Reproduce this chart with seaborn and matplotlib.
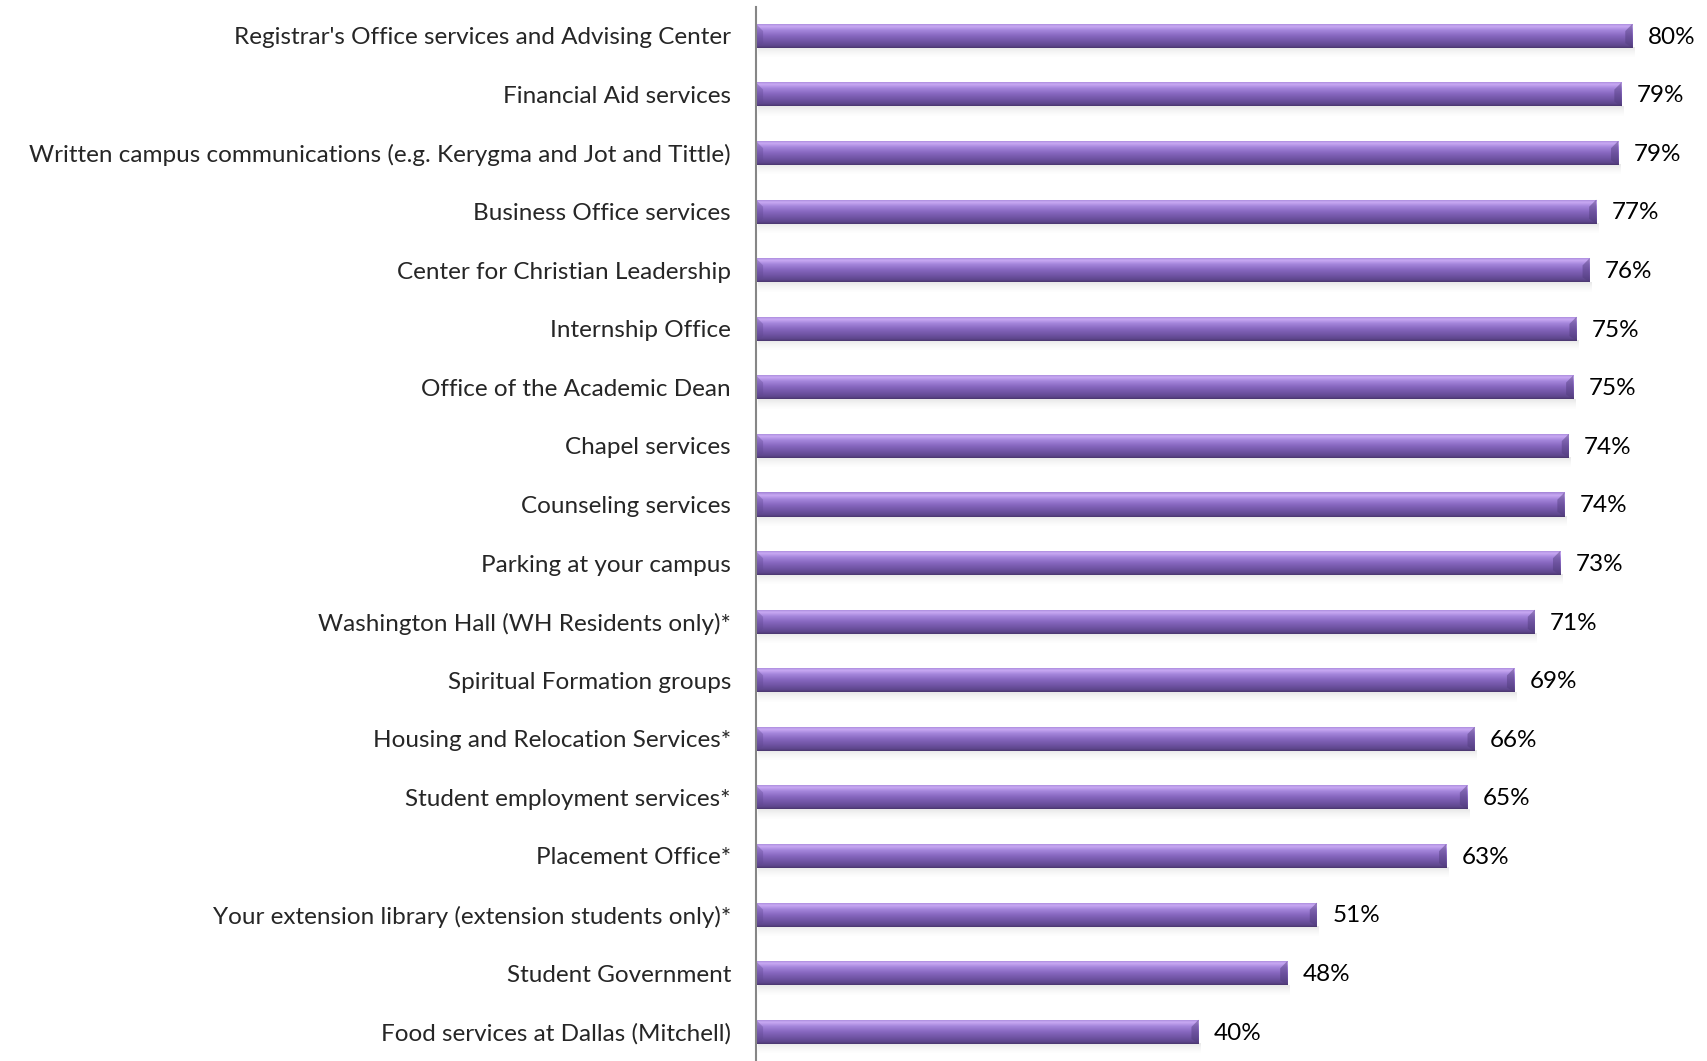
import numpy as np
import pandas as pd
import matplotlib
matplotlib.use("Agg")
import matplotlib.pyplot as plt
import seaborn as sns
from matplotlib.colors import LinearSegmentedColormap

# Survey items (top to bottom) and satisfaction share
categories = [
    "Registrar's Office services and Advising Center",
    "Financial Aid services",
    "Written campus communications (e.g. Kerygma and Jot and Tittle)",
    "Business Office services",
    "Center for Christian Leadership",
    "Internship Office",
    "Office of the Academic Dean",
    "Chapel services",
    "Counseling services",
    "Parking at your campus",
    "Washington Hall (WH Residents only)*",
    "Spiritual Formation groups",
    "Housing and Relocation Services*",
    "Student employment services*",
    "Placement Office*",
    "Your extension library (extension students only)*",
    "Student Government",
    "Food services at Dallas (Mitchell)",
]
values = [80.0, 79.0, 78.7, 76.7, 76.1, 74.9, 74.6, 74.2, 73.8, 73.4,
          71.1, 69.2, 65.6, 64.9, 63.0, 51.2, 48.5, 40.4]
pct_labels = ["80%", "79%", "79%", "77%", "76%", "75%", "75%", "74%", "74%",
              "73%", "71%", "69%", "66%", "65%", "63%", "51%", "48%", "40%"]

df = pd.DataFrame({"item": categories, "pct": values})

sns.set_style("white")
plt.rcParams["font.family"] = ["Lato", "DejaVu Sans"]

fig = plt.figure(figsize=(17.08, 10.61), dpi=100)
ax = fig.add_axes([0.4426, 0.0, 0.5574, 0.9938])

sns.barplot(data=df, x="pct", y="item", color="#7e5fb5", width=0.41,
            orient="h", ax=ax, saturation=1)

# vertical gradient to imitate the 3D bevelled look of the bars
grad_cmap = LinearSegmentedColormap.from_list("bar3d", [
    (0.00, "#a283d6"),
    (0.12, "#c9a9f3"),
    (0.28, "#a586dc"),
    (0.50, "#8868c0"),
    (0.78, "#6c519f"),
    (0.92, "#5d468b"),
    (1.00, "#4a376f"),
])
grad = np.linspace(0, 1, 64).reshape(-1, 1)

for p, lab in zip(ax.patches, pct_labels):
    x0, y0 = p.get_x(), p.get_y()
    w, h = p.get_width(), p.get_height()
    # soft shadow under bar
    shade = np.linspace(0.55, 0.0, 32).reshape(-1, 1)
    ax.imshow(shade, cmap="Greys", vmin=0, vmax=2.2, alpha=0.6,
              extent=(x0 + 0.2, x0 + w + 0.2, y0 + h + 0.16, y0 + h),
              aspect="auto", interpolation="bilinear", zorder=1)
    im = ax.imshow(grad, cmap=grad_cmap, aspect="auto",
                   extent=(x0, x0 + w, y0 + h, y0),
                   interpolation="bilinear", zorder=3)
    im.set_clip_path(p)
    # bevelled ends
    bev = 0.65
    ax.fill([x0, x0 + bev, x0 + bev, x0],
            [y0, y0 + h * 0.3, y0 + h * 0.8, y0 + h],
            color="#5e4690", alpha=0.35, lw=0, zorder=4)
    ax.fill([x0 + w, x0 + w - bev, x0 + w - bev, x0 + w],
            [y0, y0 + h * 0.3, y0 + h * 0.8, y0 + h],
            color="#4f3b7a", alpha=0.45, lw=0, zorder=4)
    ax.annotate(lab, (x0 + w, y0 + h / 2), xytext=(11, -1),
                textcoords="offset points", va="center", ha="left",
                fontsize=17.5, color="#000000")

ax.set_xlim(0, 86.9)
ax.set_ylim(len(categories) - 0.5, -0.5)
ax.set_xlabel("")
ax.set_ylabel("")
ax.set_xticks([])
ax.tick_params(axis="y", length=0, pad=18, labelsize=17.5)
for s in ["top", "right", "bottom"]:
    ax.spines[s].set_visible(False)
ax.spines["left"].set_color("#868686")
ax.spines["left"].set_linewidth(1.5)
ax.spines["left"].set_zorder(5)

fig.savefig("out.png", dpi=100)
